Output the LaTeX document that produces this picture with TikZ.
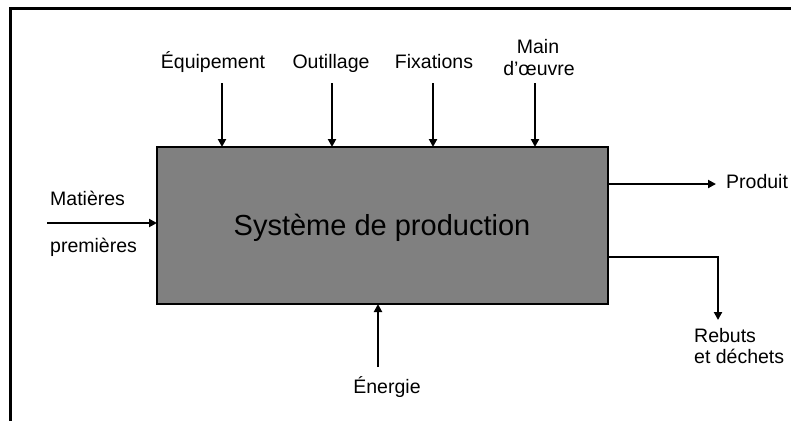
\documentclass[tikz,border=0pt]{standalone}
\usepackage{fontspec}
\setmainfont{Liberation Sans}
\usetikzlibrary{arrows.meta}
\begin{document}
\begin{tikzpicture}[x=1pt,y=-1pt,
  lab/.style={font=\fontsize{19.5}{23}\selectfont, inner sep=0pt},
  sysbox/.style={draw=black, line width=2pt, fill=gray50, minimum width=451pt, minimum height=157pt, inner sep=0pt, outer sep=0pt, font=\fontsize{29}{34}\selectfont},
  arr/.style={line width=2pt, -{Triangle[length=8pt,width=8pt]}},
  frame/.style={line width=3pt}
]
\colorlet{gray50}{black!50}
\useasboundingbox (0,0) rectangle (791,421);
\draw[frame] (791,8) -- (10,8) -- (10,421);
\node[sysbox] (sys) at (382.5,225.5) {};
\node[lab, font=\fontsize{29}{34}\selectfont, anchor=base] (title) at (382,235) {Système de production};
% top labels
\node[lab, anchor=base] (equip) at (213,68) {Équipement};
\node[lab, anchor=base] (outil) at (331,68) {Outillage};
\node[lab, anchor=base] (fix) at (434,68) {Fixations};
\node[lab, anchor=base] (main1) at (538,53) {Main};
\node[lab, anchor=base] (main2) at (539,75) {d’œuvre};
\coordinate (a1) at (222,83);
\coordinate (a2) at (332,83);
\coordinate (a3) at (433,83);
\coordinate (a4) at (535,83);
\draw[arr] (a1) -- (a1 |- sys.north);
\draw[arr] (a2) -- (a2 |- sys.north);
\draw[arr] (a3) -- (a3 |- sys.north);
\draw[arr] (a4) -- (a4 |- sys.north);
% left input
\node[lab, anchor=base west] (mat1) at (50,205) {Matières};
\node[lab, anchor=base west] (mat2) at (50,252) {premières};
\coordinate (m0) at (47,223);
\draw[arr] (m0) -- (m0 -| sys.west);
% bottom energy
\node[lab, anchor=base] (ener) at (387,393) {Énergie};
\coordinate (en0) at (378,367);
\draw[arr] (en0) -- (en0 |- sys.south);
% outputs
\node[lab, anchor=base west] (prod) at (726,188) {Produit};
\coordinate (p0) at (608,184);
\coordinate (p1) at (716,184);
\draw[arr] (p0 -| sys.east) -- (p1);
\node[lab, anchor=base west] (reb1) at (694,342) {Rebuts};
\node[lab, anchor=base west] (reb2) at (694,363) {et déchets};
\coordinate (r0) at (608,257);
\coordinate (r1) at (718,257);
\coordinate (r2) at (718,320);
\draw[arr] (r0 -| sys.east) -- (r1) -- (r2);
\end{tikzpicture}
\end{document}
